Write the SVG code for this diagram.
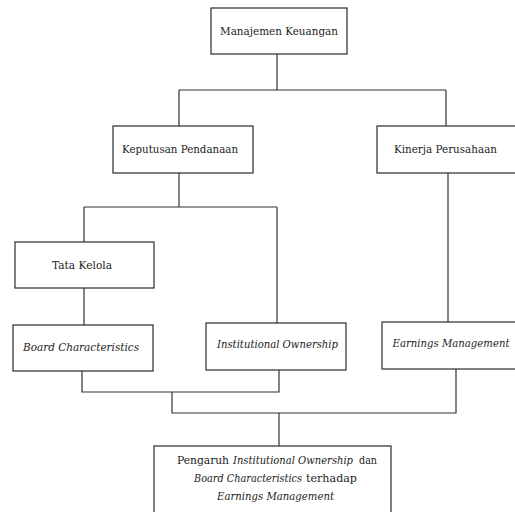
<svg xmlns="http://www.w3.org/2000/svg" width="515" height="512" viewBox="0 0 515 512">
<style>
.box{fill:#fff;stroke:#2b2b2b;stroke-width:1.2}
.ln{fill:none;stroke:#333;stroke-width:1.2}
.i{font-style:italic}
.s{text-anchor:start}
</style>
<rect width="515" height="512" fill="#fff"/>
<g id="connectors">
<path class="ln" d="M277,54 V90 M179,90 H446 M179,90 V126 M446,90 V126"/>
<path class="ln" d="M179,173 V207 M84,207 H277 M84,207 V242 M277,207 V323"/>
<path class="ln" d="M84,288 V325"/>
<path class="ln" d="M448,173 V322"/>
<path class="ln" d="M82,371 V392 H279 V370"/>
<path class="ln" d="M172,392 V413 H456 V369"/>
<path class="ln" d="M279,413 V446"/>
</g>
<g font-family="DejaVu Serif, serif" font-size="11" fill="#222" text-anchor="middle">
<g id="manajemen-keuangan">
<rect class="box" x="211" y="8" width="136" height="46"/>
<text x="279" y="35" textLength="118" lengthAdjust="spacingAndGlyphs">Manajemen Keuangan</text>
</g>
<g id="keputusan-pendanaan">
<rect class="box" x="113" y="126" width="140" height="47"/>
<text x="180" y="153" textLength="116" lengthAdjust="spacingAndGlyphs">Keputusan Pendanaan</text>
</g>
<g id="kinerja-perusahaan">
<rect class="box" x="377" y="126" width="150" height="47"/>
<text x="445.5" y="153" textLength="103" lengthAdjust="spacingAndGlyphs">Kinerja Perusahaan</text>
</g>
<g id="tata-kelola">
<rect class="box" x="15" y="242" width="139" height="46"/>
<text x="82" y="269" textLength="60" lengthAdjust="spacingAndGlyphs">Tata Kelola</text>
</g>
<g id="board-characteristics">
<rect class="box" x="13" y="325" width="140" height="46"/>
<text class="i" x="81" y="351" textLength="116" lengthAdjust="spacingAndGlyphs">Board Characteristics</text>
</g>
<g id="institutional-ownership">
<rect class="box" x="206" y="323" width="140" height="47"/>
<text class="i" x="277.5" y="348" textLength="121" lengthAdjust="spacingAndGlyphs">Institutional Ownership</text>
</g>
<g id="earnings-management">
<rect class="box" x="382" y="322" width="150" height="47"/>
<text class="i" x="451" y="347" textLength="117" lengthAdjust="spacingAndGlyphs">Earnings Management</text>
</g>
<g id="pengaruh">
<rect class="box" x="154" y="446" width="237" height="80"/>
<text class="s" x="177" y="464" textLength="52" lengthAdjust="spacingAndGlyphs">Pengaruh</text>
<text class="s i" x="233" y="464" textLength="120" lengthAdjust="spacingAndGlyphs">Institutional Ownership</text>
<text class="s" x="359" y="464" textLength="18" lengthAdjust="spacingAndGlyphs">dan</text>
<text class="s i" x="194" y="482" textLength="108" lengthAdjust="spacingAndGlyphs">Board Characteristics</text>
<text class="s" x="306" y="482" textLength="51" lengthAdjust="spacingAndGlyphs">terhadap</text>
<text class="s i" x="217" y="500" textLength="117" lengthAdjust="spacingAndGlyphs">Earnings Management</text>
</g>
</g>
</svg>
